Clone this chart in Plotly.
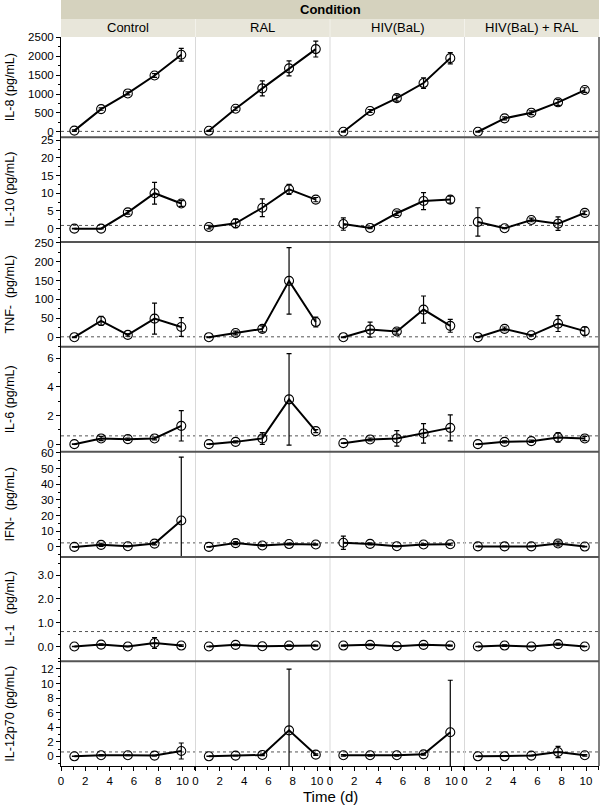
import plotly.graph_objects as go
from plotly.subplots import make_subplots

time_d = [1.1, 3.3, 5.5, 7.7, 9.9]
conditions = ["Control", "RAL", "HIV(BaL)", "HIV(BaL) + RAL"]
row_titles = ["IL-8 (pg/mL)", "IL-10 (pg/mL)", "TNF-  (pg/mL)", "IL-6 (pg/mL)",
              "IFN-  (pg/mL)", "IL-1   (pg/mL)", "IL-12p70 (pg/mL)"]

# mean values, one list per condition (Control, RAL, HIV(BaL), HIV(BaL)+RAL)
il8_mean = [[30, 600, 1015, 1490, 2040], [25, 610, 1150, 1680, 2190],
            [0, 550, 890, 1290, 1950], [0, 355, 505, 780, 1105]]
il8_err = [[20, 30, 40, 50, 170], [15, 40, 200, 200, 210],
           [10, 40, 80, 140, 150], [10, 40, 50, 80, 60]]

il10_mean = [[0, 0, 4.6, 10.0, 7.1], [0.45, 1.5, 5.9, 11.1, 8.2],
             [1.3, 0.2, 4.35, 7.8, 8.2], [1.9, 0.1, 2.45, 1.4, 4.45]]
il10_err = [[0.1, 0.1, 0.5, 3.1, 0.8], [0.5, 1.2, 2.5, 1.4, 0.6],
            [1.75, 0.2, 0.6, 2.4, 1.0], [4.0, 0.1, 0.5, 1.9, 0.5]]

tnf_mean = [[0, 43, 6, 49, 27], [0, 11, 22, 149, 40],
            [0, 20, 15, 73, 30], [0, 22, 5, 36, 16]]
tnf_err = [[1, 12, 3, 41, 25], [1, 5, 8, 88, 13],
           [1, 20, 7, 36, 17], [1, 5, 2, 21, 11]]

il6_mean = [[0, 0.4, 0.35, 0.4, 1.28], [0, 0.16, 0.4, 3.13, 0.91],
            [0.07, 0.33, 0.4, 0.75, 1.14], [0, 0.16, 0.21, 0.47, 0.4]]
il6_err = [[0.02, 0.15, 0.08, 0.1, 1.06], [0.02, 0.08, 0.41, 3.2, 0.1],
           [0.02, 0.1, 0.54, 0.68, 0.91], [0.02, 0.08, 0.08, 0.33, 0.15]]

ifn_mean = [[0, 1.3, 0.4, 2.1, 16.8], [0, 2.4, 0.9, 1.8, 1.5],
            [2.6, 1.9, 0.4, 1.5, 1.7], [0.3, 0.3, 0.3, 2.2, 0.2]]
ifn_err = [[0.2, 1.0, 0.3, 0.8, 40.4], [0.2, 1.0, 0.5, 0.6, 0.4],
           [4.25, 0.6, 0.3, 0.5, 0.6], [0.2, 0.2, 0.2, 1.5, 0.2]]

il1_mean = [[0, 0.08, 0, 0.15, 0.04], [0, 0.07, 0.01, 0.04, 0.04],
            [0.04, 0.07, 0.01, 0.07, 0.04], [0, 0.04, 0, 0.1, 0]]
il1_err = [[0.01, 0.03, 0.01, 0.23, 0.03], [0.01, 0.03, 0.01, 0.03, 0.02],
           [0.02, 0.03, 0.01, 0.03, 0.02], [0.01, 0.03, 0.01, 0.04, 0.01]]

il12_mean = [[0, 0.14, 0.14, 0.1, 0.73], [0, 0.1, 0.19, 3.57, 0.23],
             [0.14, 0.14, 0.14, 0.27, 3.3], [0, 0, 0.1, 0.6, 0.14]]
il12_err = [[0.02, 0.08, 0.05, 0.05, 1.1], [0.02, 0.05, 0.1, 8.4, 0.1],
            [0.1, 0.1, 0.1, 0.1, 7.15], [0.02, 0.02, 0.05, 0.78, 0.1]]

means = [il8_mean, il10_mean, tnf_mean, il6_mean, ifn_mean, il1_mean, il12_mean]
errs = [il8_err, il10_err, tnf_err, il6_err, ifn_err, il1_err, il12_err]

y_ranges = [[-148, 2510], [-3.8, 25.8], [-25.5, 251.6], [-0.54, 6.81],
            [-6.4, 60.6], [-0.62, 3.77], [-1.33, 13.06]]
y_dticks = [500, 5, 50, 2, 10, 1.0, 2]
y_minor = [250, 2.5, 25, 1, 5, 0.5, 1]
y_formats = ["d", "d", "d", "d", "d", ".1f", "d"]
detection_limits = [10, 0.9, 1, 0.58, 2.55, 0.63, 0.6]

x_ticks = [0, 2, 4, 6, 8, 10]

W, H = 600, 811
ML, MR, MT, MB = 61, 1, 37, 45
PW = W - ML - MR
PH = H - MT - MB

fig = make_subplots(rows=7, cols=4, horizontal_spacing=0, vertical_spacing=0,
                    row_heights=[100.3, 104.7, 104.7, 105, 105, 104.3, 104.7])

FONT = "Liberation Sans, Arial, sans-serif"

for r in range(7):
    for c in range(4):
        fig.add_trace(go.Scatter(
            x=time_d, y=means[r][c], mode="lines+markers",
            line=dict(color="black", width=2),
            marker=dict(symbol="circle-open", size=9, color="black",
                        line=dict(width=1.1, color="black")),
            error_y=dict(type="data", array=errs[r][c], visible=True,
                         color="black", thickness=1.2, width=2.5),
            showlegend=False, hoverinfo="skip"), row=r + 1, col=c + 1)

shapes = []
annotations = []

for r in range(7):
    for c in range(4):
        idx = r * 4 + c + 1
        xa = "xaxis" if idx == 1 else f"xaxis{idx}"
        ya = "yaxis" if idx == 1 else f"yaxis{idx}"
        bottom = (r == 6)
        fig.layout[xa].update(
            range=[0, 11.07], showgrid=False, zeroline=False,
            showline=bottom, linecolor="black", linewidth=1,
            tickmode="array", tickvals=x_ticks, ticktext=[str(v) for v in x_ticks],
            showticklabels=bottom, ticks="outside" if bottom else "",
            ticklen=4, tickwidth=1, tickcolor="black", automargin=False,
            tickfont=dict(family=FONT, size=11.5, color="black"),
            minor=dict(ticks="outside" if bottom else "", dtick=1, tick0=0,
                       ticklen=2.5, tickcolor="black", showgrid=False),
        )
        first = (c == 0)
        fig.layout[ya].update(
            range=y_ranges[r], showgrid=False, zeroline=False,
            showline=first, linecolor="black", linewidth=1,
            dtick=y_dticks[r], tick0=0, tickformat=y_formats[r],
            showticklabels=first, ticks="outside" if first else "",
            ticklen=4, tickwidth=1, tickcolor="black", automargin=False,
            tickfont=dict(family=FONT, size=11.5, color="black"),
            minor=dict(ticks="outside" if first else "", dtick=y_minor[r], tick0=0,
                       ticklen=2.5, tickcolor="black", showgrid=False),
        )

# domains
row_domains = []
for r in range(7):
    idx = r * 4 + 1
    ya = "yaxis" if idx == 1 else f"yaxis{idx}"
    row_domains.append(fig.layout[ya].domain)
col_domains = []
for c in range(4):
    xa = "xaxis" if c == 0 else f"xaxis{c + 1}"
    col_domains.append(fig.layout[xa].domain)

# dotted reference lines per row
for r in range(7):
    idx = r * 4 + 1
    yref = "y" if idx == 1 else f"y{idx}"
    shapes.append(dict(type="line", xref="paper", yref=yref, x0=0, x1=1,
                       y0=detection_limits[r], y1=detection_limits[r],
                       line=dict(color="#555555", width=1, dash="dot"), layer="below"))

# vertical light column separators
for c in range(1, 4):
    x = col_domains[c][0]
    shapes.append(dict(type="line", xref="paper", yref="paper", x0=x, x1=x, y0=0, y1=1,
                       line=dict(color="#d9d9d9", width=1), layer="below"))

# horizontal dark row separators
for r in range(6):
    y = row_domains[r][0]
    shapes.append(dict(type="line", xref="paper", yref="paper", x0=0, x1=1, y0=y, y1=y,
                       line=dict(color="#555555", width=2), layer="above"))

# right border
shapes.append(dict(type="line", xref="paper", yref="paper", x0=1, x1=1, y0=0, y1=1,
                   line=dict(color="#555555", width=1.5), layer="above"))

# strips
s1 = 1 + 18 / PH
s2 = 1 + 37 / PH
shapes.append(dict(type="rect", xref="paper", yref="paper", x0=0, x1=1, y0=s1, y1=s2,
                   fillcolor="#d5d2be", line=dict(width=0), layer="above"))
shapes.append(dict(type="rect", xref="paper", yref="paper", x0=0, x1=1, y0=1, y1=s1,
                   fillcolor="#e8e6da", line=dict(width=0), layer="above"))
for c in range(1, 4):
    x = col_domains[c][0]
    shapes.append(dict(type="line", xref="paper", yref="paper", x0=x, x1=x, y0=1, y1=s1,
                       line=dict(color="#f2f1ea", width=1), layer="above"))

annotations.append(dict(text="<b>Condition</b>", xref="paper", yref="paper",
                        x=0.5, y=(s1 + s2) / 2, showarrow=False,
                        xanchor="center", yanchor="middle",
                        font=dict(family=FONT, size=13, color="black")))
for c in range(4):
    annotations.append(dict(text=conditions[c], xref="paper", yref="paper",
                            x=(col_domains[c][0] + col_domains[c][1]) / 2,
                            y=(1 + s1) / 2, showarrow=False,
                            xanchor="center", yanchor="middle",
                            font=dict(family=FONT, size=13, color="black")))

# y titles
for r in range(7):
    annotations.append(dict(text=row_titles[r], xref="paper", yref="paper",
                            x=(10 - ML) / PW, y=(row_domains[r][0] + row_domains[r][1]) / 2,
                            showarrow=False, textangle=-90,
                            xanchor="center", yanchor="middle",
                            font=dict(family=FONT, size=12.5, color="black")))

annotations.append(dict(text="Time (d)", xref="paper", yref="paper",
                        x=(330 - ML) / PW, y=-(796 - (H - MB)) / PH,
                        showarrow=False, xanchor="center", yanchor="middle",
                        font=dict(family=FONT, size=15, color="black")))

fig.update_layout(
    width=W, height=H,
    margin=dict(l=ML, r=MR, t=MT, b=MB, autoexpand=False),
    paper_bgcolor="white", plot_bgcolor="white",
    shapes=shapes, annotations=annotations,
    font=dict(family=FONT, color="black"),
    showlegend=False,
)

fig.write_html("out.html", config={"displayModeBar": False},
               post_script="document.body.style.margin='0';document.body.style.overflow='hidden';")
